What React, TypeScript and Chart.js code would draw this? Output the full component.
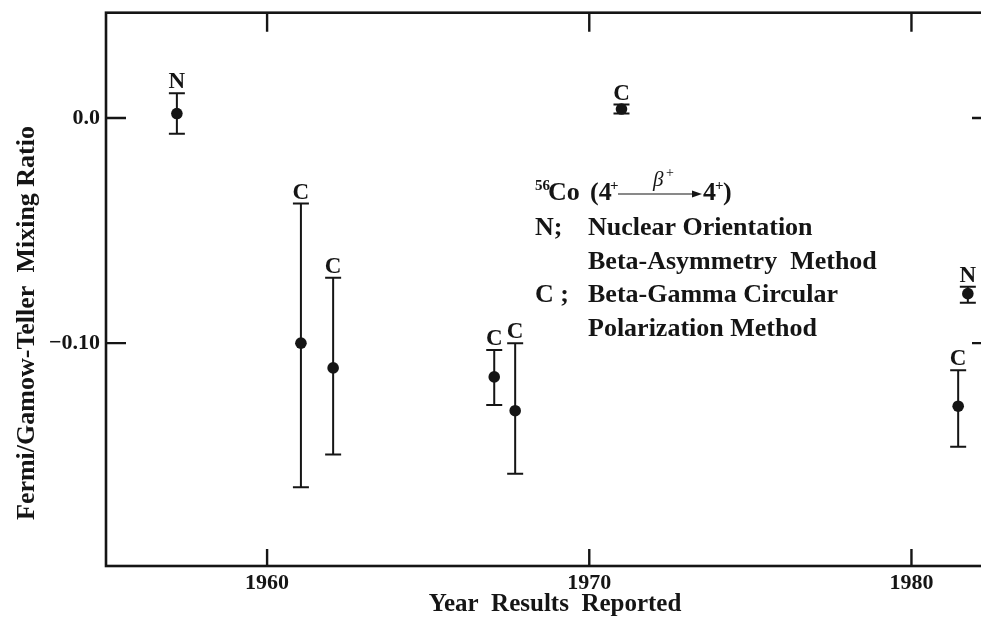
import React, { useEffect, useRef } from 'react';
import { Chart, registerables } from 'chart.js';

Chart.register(...registerables);

// ---- data ----
const years = [1957.2, 1961.05, 1962.05, 1967.05, 1967.7, 1971.0, 1981.75, 1981.45];
const values = [0.002, -0.1, -0.111, -0.115, -0.13, 0.004, -0.078, -0.128];
const upper = [0.011, -0.038, -0.071, -0.103, -0.1, 0.006, -0.075, -0.112];
const lower = [-0.007, -0.164, -0.1495, -0.1275, -0.158, 0.002, -0.082, -0.146];
const methods = ['N', 'C', 'C', 'C', 'C', 'C', 'N', 'C'];

const xTicks = [1960, 1970, 1980];
const yTicks = [0, -0.1];
const yTickLabels = ['0.0', '\u22120.10'];

const xTitle = 'Year  Results  Reported';
const yTitle = 'Fermi/Gamow-Teller  Mixing Ratio';
const legendRows = [
  ['N;', 'Nuclear Orientation'],
  ['', 'Beta-Asymmetry  Method'],
  ['C ;', 'Beta-Gamma Circular'],
  ['', 'Polarization Method'],
];

const FONT = '"Liberation Serif", "Times New Roman", serif';
const INK = '#151515';

const decor = {
  id: 'decor',
  beforeDatasetsDraw(chart: any) {
    const ctx = chart.ctx;
    const xs = chart.scales.x;
    const ys = chart.scales.y;
    ctx.save();
    ctx.strokeStyle = INK;
    ctx.lineWidth = 2;
    for (let i = 0; i < years.length; i++) {
      const px = xs.getPixelForValue(years[i]);
      const pu = ys.getPixelForValue(upper[i]);
      const pl = ys.getPixelForValue(lower[i]);
      ctx.beginPath();
      ctx.moveTo(px, pu);
      ctx.lineTo(px, pl);
      ctx.moveTo(px - 8, pu);
      ctx.lineTo(px + 8, pu);
      ctx.moveTo(px - 8, pl);
      ctx.lineTo(px + 8, pl);
      ctx.stroke();
    }
    ctx.restore();
  },
  afterDraw(chart: any) {
    const ctx = chart.ctx;
    const a = chart.chartArea;
    const xs = chart.scales.x;
    const ys = chart.scales.y;
    ctx.save();
    ctx.strokeStyle = INK;
    ctx.fillStyle = INK;
    // frame
    ctx.lineWidth = 2.6;
    ctx.strokeRect(a.left, a.top, a.right - a.left, a.bottom - a.top);
    // inward ticks
    ctx.lineWidth = 2.4;
    ctx.beginPath();
    xTicks.forEach((v) => {
      const px = xs.getPixelForValue(v);
      ctx.moveTo(px, a.bottom);
      ctx.lineTo(px, a.bottom - 17);
      ctx.moveTo(px, a.top);
      ctx.lineTo(px, a.top + 19);
    });
    yTicks.forEach((v) => {
      const py = ys.getPixelForValue(v);
      ctx.moveTo(a.left, py);
      ctx.lineTo(a.left + 20, py);
      ctx.moveTo(a.right, py);
      ctx.lineTo(a.right - 20, py);
    });
    ctx.stroke();

    // method labels above error bars
    ctx.font = `bold 23px ${FONT}`;
    ctx.textAlign = 'center';
    ctx.textBaseline = 'alphabetic';
    for (let i = 0; i < years.length; i++) {
      const px = xs.getPixelForValue(years[i]);
      const pu = ys.getPixelForValue(upper[i]);
      ctx.fillText(methods[i], px, pu - 5);
    }

    // axis titles
    ctx.font = `bold 25px ${FONT}`;
    ctx.textBaseline = 'middle';
    ctx.fillText(xTitle, 555, 605);
    ctx.save();
    ctx.translate(27, 323);
    ctx.rotate(-Math.PI / 2);
    ctx.font = `bold 26px ${FONT}`;
    ctx.fillText(yTitle, 0, 0);
    ctx.restore();

    // legend block
    ctx.textAlign = 'left';
    ctx.textBaseline = 'alphabetic';
    const big = `bold 26px ${FONT}`;
    const sup = `bold 15px ${FONT}`;
    const y0 = 200;
    ctx.font = sup;
    ctx.fillText('56', 535, y0 - 10);
    ctx.font = big;
    ctx.fillText('Co', 548, y0);
    ctx.fillText('(4', 590, y0);
    ctx.font = sup;
    ctx.fillText('+', 610, y0 - 10);
    ctx.lineWidth = 1.2;
    ctx.beginPath();
    ctx.moveTo(618, y0 - 6);
    ctx.lineTo(698, y0 - 6);
    ctx.stroke();
    ctx.beginPath();
    ctx.moveTo(702, y0 - 6);
    ctx.lineTo(692, y0 - 9.5);
    ctx.lineTo(692, y0 - 2.5);
    ctx.closePath();
    ctx.fill();
    ctx.font = `italic 21px ${FONT}`;
    ctx.fillText('\u03B2', 653, y0 - 14);
    ctx.font = `14px ${FONT}`;
    ctx.fillText('+', 666, y0 - 23);
    ctx.font = big;
    ctx.fillText('4', 703, y0);
    ctx.font = sup;
    ctx.fillText('+', 715, y0 - 10);
    ctx.font = big;
    ctx.fillText(')', 723, y0);
    const baselines = [235, 269, 302, 336];
    legendRows.forEach((row, i) => {
      ctx.fillText(row[0], 535, baselines[i]);
      ctx.fillText(row[1], 588, baselines[i]);
    });
    ctx.restore();
  },
};

export default function App() {
  const ref = useRef<HTMLCanvasElement | null>(null);
  useEffect(() => {
    if (!ref.current) return;
    const chart = new Chart(ref.current, {
      type: 'scatter',
      data: {
        datasets: [
          {
            data: years.map((x, i) => ({ x, y: values[i] })),
            backgroundColor: INK,
            borderWidth: 0,
            pointRadius: 5.8,
            pointHoverRadius: 5.8,
          },
        ],
      },
      options: {
        animation: false,
        responsive: false,
        events: [],
        layout: { padding: { left: 0, top: 12.7, right: 8, bottom: 0 } },
        plugins: { legend: { display: false }, tooltip: { enabled: false } },
        scales: {
          x: {
            type: 'linear',
            min: 1955,
            max: 1982.5,
            afterBuildTicks: (s: any) => {
              s.ticks = xTicks.map((v) => ({ value: v }));
            },
            afterFit: (s: any) => {
              s.height = 53;
              s.paddingLeft = 0;
              s.paddingRight = 0;
            },
            grid: { display: false, drawTicks: false },
            border: { display: false },
            ticks: {
              padding: 6,
              color: INK,
              maxRotation: 0,
              autoSkip: false,
              font: { family: FONT, size: 22, weight: 'bold', lineHeight: 1 },
              callback: (v: any) => String(v),
            },
          },
          y: {
            type: 'linear',
            min: -0.199,
            max: 0.0468,
            afterBuildTicks: (s: any) => {
              s.ticks = yTicks.map((v) => ({ value: v }));
            },
            afterFit: (s: any) => {
              s.width = 106;
              s.paddingTop = 0;
              s.paddingBottom = 0;
            },
            grid: { display: false, drawTicks: false },
            border: { display: false },
            ticks: {
              padding: 6,
              color: INK,
              autoSkip: false,
              font: { family: FONT, size: 22, weight: 'bold', lineHeight: 1 },
              callback: (v: any) => {
                const idx = yTicks.findIndex((t) => Math.abs(t - v) < 1e-9);
                return idx >= 0 ? yTickLabels[idx] : '';
              },
            },
          },
        },
      },
      plugins: [decor],
    } as any);
    return () => chart.destroy();
  }, []);
  return (
    <div
      style={{
        position: 'fixed',
        left: 0,
        top: 0,
        width: 981,
        height: 619,
        overflow: 'hidden',
        background: '#ffffff',
      }}
    >
      <canvas ref={ref} width={1000} height={619} style={{ display: 'block', width: 1000, height: 619 }} />
    </div>
  );
}
